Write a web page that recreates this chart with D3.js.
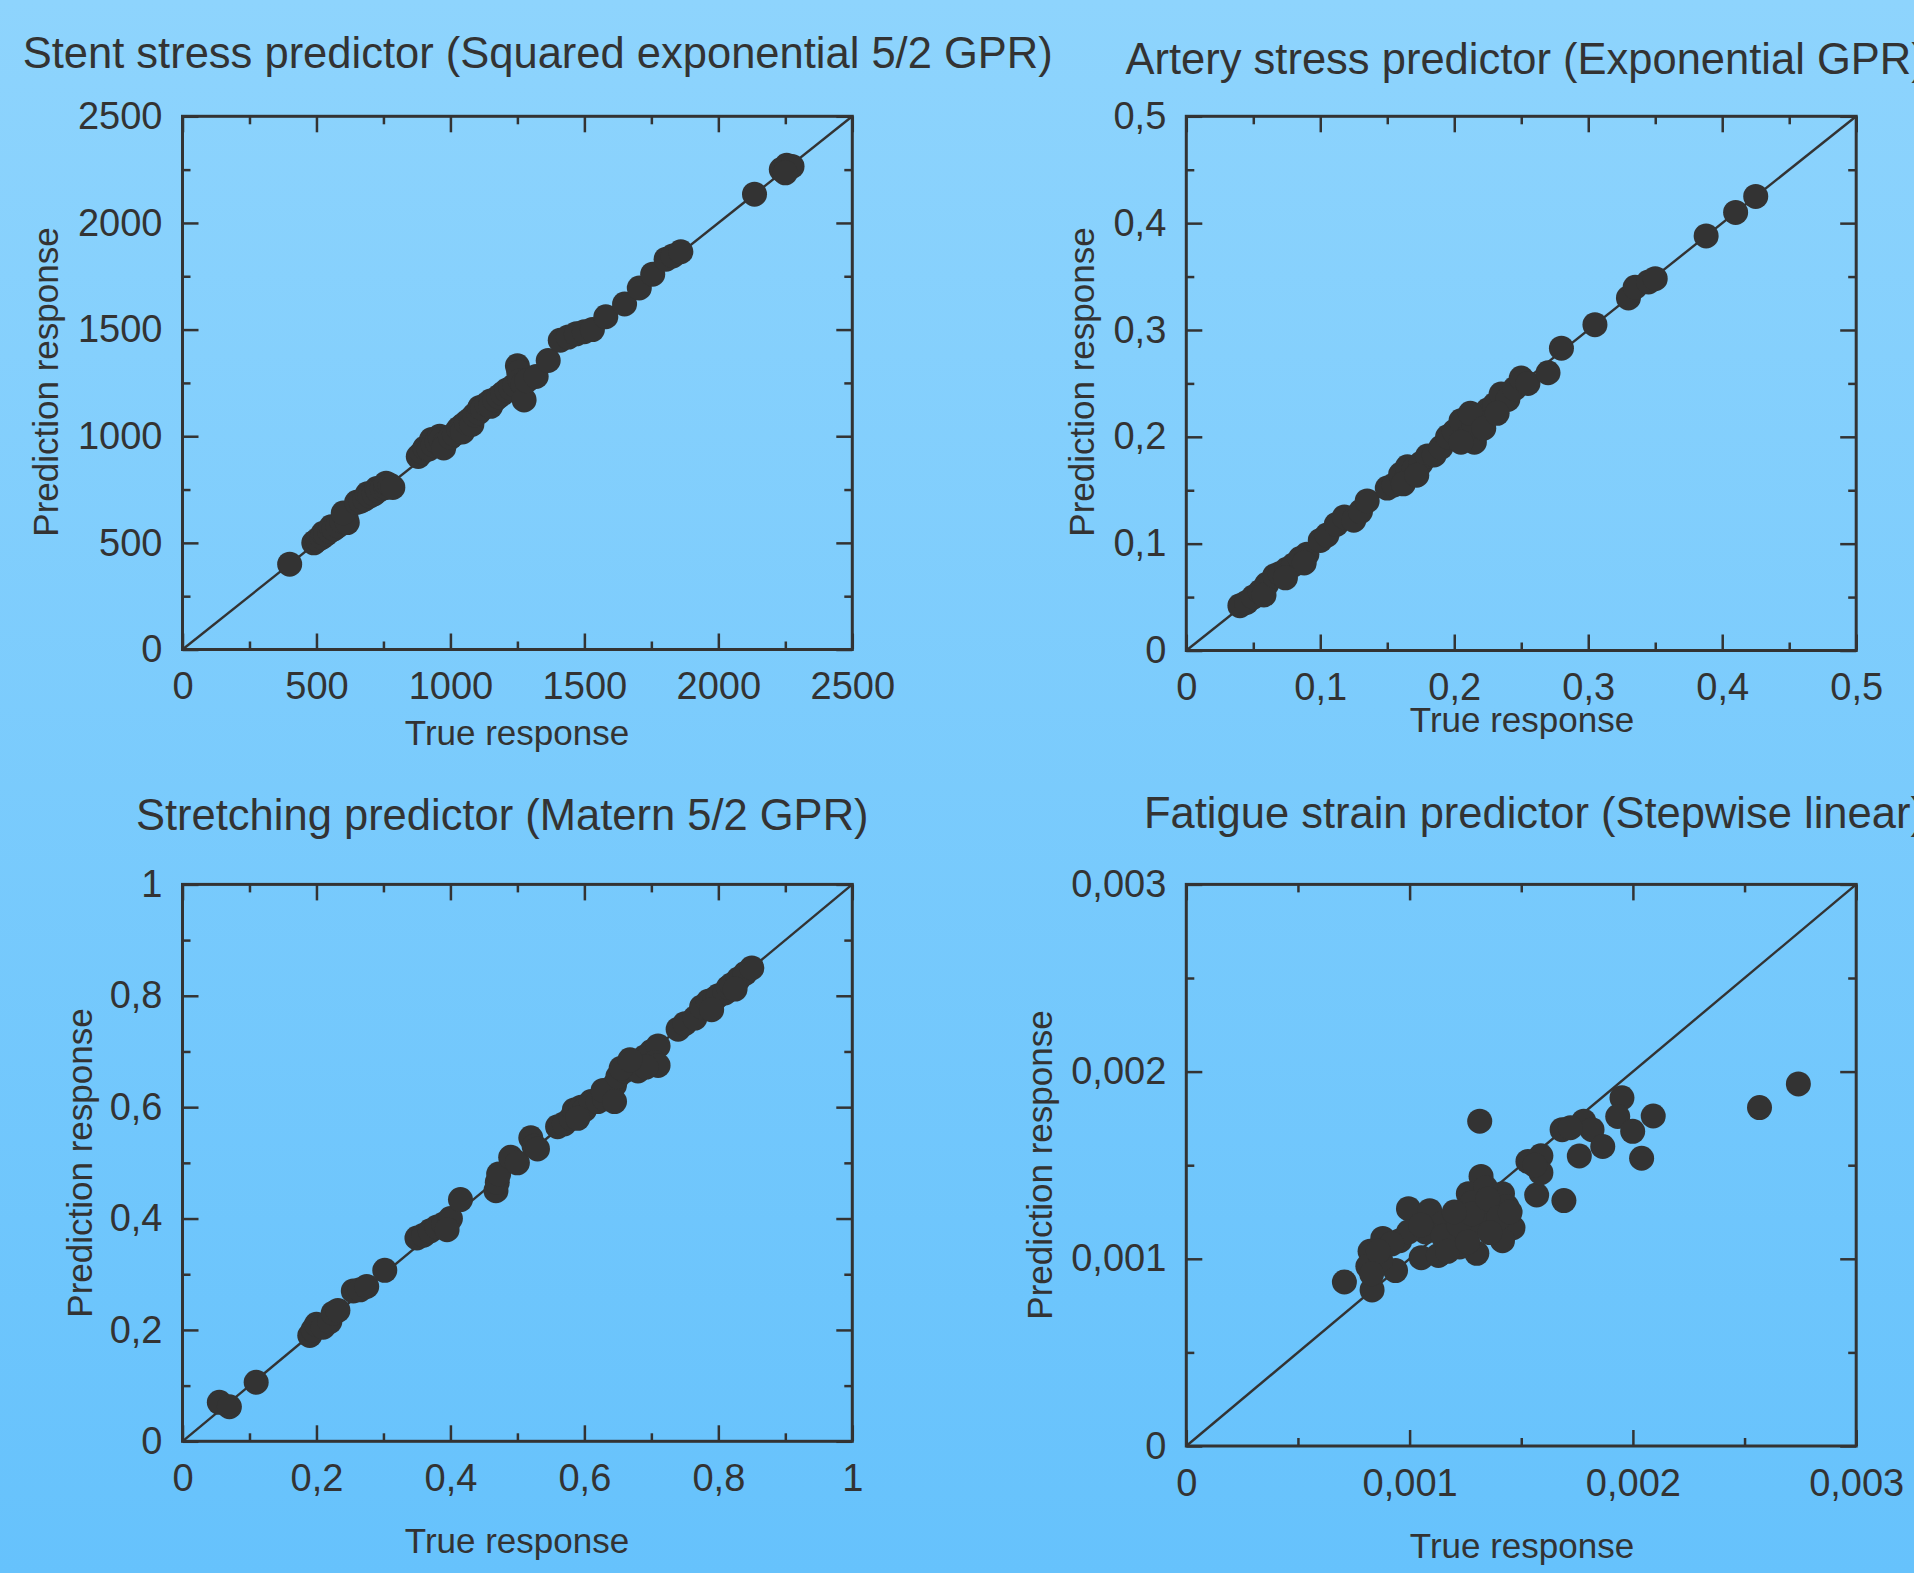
<!DOCTYPE html>
<html>
<head>
<meta charset="utf-8">
<script src="https://cdn.jsdelivr.net/npm/d3@7"></script>
<style>
  html, body { margin: 0; padding: 0; }
  body { width: 1914px; height: 1573px; overflow: hidden; }
  svg text { font-family: "Liberation Sans", Arial, sans-serif; fill: #333; }
</style>
</head>
<body>
<svg id="chart" width="1914" height="1573"></svg>
<script>
// ---- data (true response, predicted response) ----
const stentTitle = "Stent stress predictor (Squared exponential 5/2 GPR)";
const stentMajor = [0, 500, 1000, 1500, 2000, 2500];
const stentMinor = [250, 750, 1250, 1750, 2250];
const stentPoints = [
  [400, 400],
  [490, 500], [505, 515], [520, 525], [525, 545], [535, 540], [550, 555], [555, 575], [565, 565], [580, 580],
  [595, 600], [610, 625], [615, 595], [600, 640],
  [650, 690], [665, 695], [680, 705], [690, 730], [700, 720], [715, 730], [725, 755], [730, 745], [745, 755],
  [760, 760], [760, 780], [775, 770], [785, 760],
  [880, 905], [895, 925], [905, 945], [920, 940], [930, 985], [935, 960], [950, 975], [960, 1000], [965, 985],
  [980, 970], [975, 945],
  [1000, 995], [1015, 1010], [1030, 1035], [1045, 1050], [1045, 1020], [1060, 1065], [1075, 1080], [1080, 1055],
  [1090, 1100], [1105, 1110], [1110, 1135], [1120, 1130], [1135, 1150], [1150, 1165], [1150, 1140], [1165, 1170],
  [1180, 1185], [1195, 1200],
  [1210, 1215], [1225, 1225], [1240, 1240], [1250, 1330], [1255, 1300], [1260, 1260], [1270, 1245], [1275, 1170],
  [1285, 1260], [1320, 1280],
  [1365, 1355],
  [1410, 1450], [1440, 1465], [1470, 1480], [1500, 1490], [1530, 1500],
  [1580, 1560], [1650, 1620], [1705, 1695], [1755, 1760],
  [1805, 1830], [1830, 1845], [1860, 1865],
  [2135, 2135],
  [2235, 2250], [2255, 2270], [2275, 2265], [2250, 2235]
];

const arteryTitle = "Artery stress predictor (Exponential GPR)";
const arteryMajor = [0, 0.1, 0.2, 0.3, 0.4, 0.5];
const arteryMinor = [0.05, 0.15, 0.25, 0.35, 0.45];
const arteryPoints = [
  [0.040, 0.042], [0.045, 0.045], [0.050, 0.050], [0.055, 0.055], [0.060, 0.062], [0.058, 0.052],
  [0.066, 0.070], [0.070, 0.072], [0.075, 0.076], [0.080, 0.080], [0.085, 0.086], [0.090, 0.090], [0.088, 0.082],
  [0.074, 0.068],
  [0.100, 0.103], [0.105, 0.108], [0.112, 0.118], [0.118, 0.125], [0.125, 0.122], [0.130, 0.130], [0.135, 0.140],
  [0.150, 0.152], [0.155, 0.155], [0.160, 0.165], [0.165, 0.172], [0.170, 0.170], [0.175, 0.175], [0.180, 0.182],
  [0.185, 0.183], [0.162, 0.156], [0.172, 0.164],
  [0.190, 0.190], [0.195, 0.200], [0.200, 0.205], [0.205, 0.215], [0.210, 0.200], [0.215, 0.195], [0.215, 0.210],
  [0.220, 0.220], [0.225, 0.225], [0.205, 0.195], [0.212, 0.222], [0.222, 0.208],
  [0.230, 0.230], [0.235, 0.240], [0.240, 0.235], [0.245, 0.245], [0.250, 0.255], [0.255, 0.250], [0.270, 0.260],
  [0.232, 0.222],
  [0.280, 0.283], [0.305, 0.305],
  [0.330, 0.330], [0.335, 0.340], [0.345, 0.345], [0.350, 0.348],
  [0.388, 0.388], [0.410, 0.410], [0.425, 0.425]
];

const stretchTitle = "Stretching predictor (Matern 5/2 GPR)";
const stretchMajor = [0, 0.2, 0.4, 0.6, 0.8, 1];
const stretchMinor = [0.1, 0.3, 0.5, 0.7, 0.9];
const stretchPoints = [
  [0.055, 0.070], [0.070, 0.062],
  [0.110, 0.106],
  [0.190, 0.190], [0.195, 0.200], [0.200, 0.210], [0.210, 0.205], [0.220, 0.215], [0.225, 0.230], [0.232, 0.235],
  [0.255, 0.270], [0.265, 0.272], [0.275, 0.278],
  [0.302, 0.307],
  [0.350, 0.365], [0.360, 0.370], [0.370, 0.378], [0.380, 0.385], [0.390, 0.390], [0.400, 0.400], [0.395, 0.380],
  [0.415, 0.434],
  [0.468, 0.450], [0.470, 0.465], [0.472, 0.480],
  [0.490, 0.510], [0.500, 0.500],
  [0.520, 0.545], [0.525, 0.530], [0.530, 0.525],
  [0.560, 0.565], [0.570, 0.570], [0.580, 0.580], [0.585, 0.595], [0.595, 0.600], [0.600, 0.595], [0.610, 0.610],
  [0.590, 0.580],
  [0.620, 0.610], [0.630, 0.615], [0.640, 0.625], [0.645, 0.640], [0.628, 0.630], [0.645, 0.610],
  [0.650, 0.655], [0.660, 0.665], [0.670, 0.670], [0.680, 0.680], [0.690, 0.690], [0.700, 0.700], [0.710, 0.710],
  [0.705, 0.680], [0.710, 0.675], [0.680, 0.665], [0.692, 0.672], [0.655, 0.670], [0.668, 0.685],
  [0.740, 0.740], [0.750, 0.750], [0.765, 0.760],
  [0.775, 0.780], [0.785, 0.790], [0.795, 0.795], [0.800, 0.800], [0.810, 0.805], [0.815, 0.815], [0.790, 0.775],
  [0.820, 0.820], [0.830, 0.830], [0.840, 0.840], [0.850, 0.850], [0.825, 0.812]
];

const fatigueTitle = "Fatigue strain predictor (Stepwise linear)";
const fatigueMajor = [0, 0.001, 0.002, 0.003];
const fatigueMinor = [0.0005, 0.0015, 0.0025];
const fatiguePoints = [
  [0.000708, 0.000876], [0.001314, 0.001735], [0.002567, 0.001808], [0.002741, 0.001934],
  [0.002091, 0.001763], [0.002039, 0.001537], [0.001760, 0.001549], [0.001569, 0.001341], [0.001691, 0.001311],
  [0.001951, 0.001860], [0.001932, 0.001760], [0.001999, 0.001681],
  [0.001683, 0.001690], [0.001780, 0.001735], [0.001817, 0.001690], [0.001865, 0.001600], [0.001720, 0.001700],
  [0.001530, 0.001520], [0.001588, 0.001550], [0.001588, 0.001460], [0.001560, 0.001500],
  [0.001320, 0.001440], [0.001263, 0.001348], [0.001416, 0.001348], [0.001243, 0.001257], [0.001339, 0.001280],
  [0.001435, 0.001280], [0.000995, 0.001268], [0.001090, 0.001257], [0.001148, 0.001189], [0.001071, 0.001143],
  [0.001186, 0.001097], [0.001301, 0.001189], [0.001377, 0.001189], [0.001463, 0.001166], [0.001416, 0.001097],
  [0.001301, 0.001029], [0.001052, 0.001006], [0.001129, 0.001018], [0.001224, 0.001063], [0.000880, 0.001109],
  [0.000956, 0.001097], [0.000823, 0.001040], [0.000813, 0.000960], [0.000832, 0.000834], [0.000937, 0.000937],
  [0.000870, 0.000994], [0.000995, 0.001143], [0.001340, 0.001380], [0.001280, 0.001300],
  [0.000920, 0.001080], [0.001050, 0.001180], [0.001150, 0.001120], [0.001220, 0.001180], [0.001280, 0.001240],
  [0.001350, 0.001320], [0.001400, 0.001220], [0.001450, 0.001250], [0.001170, 0.001040], [0.001260, 0.001090],
  [0.000860, 0.001040], [0.000830, 0.000920], [0.001360, 0.001140], [0.001200, 0.001250]
];

const xLabel = "True response";
const yLabel = "Prediction response";

// ---- layout of the four panels (pixel positions) ----
const panels = [
  { title: stentTitle, points: stentPoints, major: stentMajor, minor: stentMinor,
    box: { left: 182.5, right: 852.3, top: 116.3, bottom: 649.5 },
    titleAt: [22.7, 68.3], yLabAt: [46, 382], xLabAt: [517, 745] },
  { title: arteryTitle, points: arteryPoints, major: arteryMajor, minor: arteryMinor,
    box: { left: 1186.3, right: 1856.2, top: 116.3, bottom: 650.5 },
    titleAt: [1125.5, 74], yLabAt: [1082, 382], xLabAt: [1522, 732] },
  { title: stretchTitle, points: stretchPoints, major: stretchMajor, minor: stretchMinor,
    box: { left: 182.5, right: 852.3, top: 884.4, bottom: 1441.3 },
    titleAt: [136, 830], yLabAt: [80, 1163], xLabAt: [517, 1553] },
  { title: fatigueTitle, points: fatiguePoints, major: fatigueMajor, minor: fatigueMinor,
    box: { left: 1186.3, right: 1856.2, top: 884.4, bottom: 1446 },
    titleAt: [1144, 827.5], yLabAt: [1040, 1165], xLabAt: [1522, 1558] }
];

const ink = "#333333";
const svg = d3.select("#chart");

// background gradient
const grad = svg.append("defs").append("linearGradient")
  .attr("id", "bg").attr("x1", 0).attr("y1", 0).attr("x2", 0).attr("y2", 1);
grad.append("stop").attr("offset", "0%").attr("stop-color", "#8ed4fd");
grad.append("stop").attr("offset", "100%").attr("stop-color", "#66c2fc");
svg.append("rect").attr("width", 1914).attr("height", 1573).attr("fill", "url(#bg)");

const fmt = d => String(d).replace(".", ",");

panels.forEach(p => {
  const b = p.box;
  const maxV = p.major[p.major.length - 1];
  const x = d3.scaleLinear().domain([0, maxV]).range([b.left, b.right]);
  const y = d3.scaleLinear().domain([0, maxV]).range([b.bottom, b.top]);
  const g = svg.append("g");

  // ticks (inside, on all four sides)
  const addAxis = (axis, tr, labels, size) => {
    const a = g.append("g").attr("transform", tr).style("color", ink)
      .call(axis.tickSizeInner(-size).tickSizeOuter(0));
    a.select(".domain").remove();
    a.selectAll(".tick line").attr("stroke-width", 2.5);
    if (!labels) a.selectAll(".tick text").remove();
    return a;
  };
  const bx = addAxis(d3.axisBottom(x).tickValues(p.major).tickFormat(fmt).tickPadding(23),
    `translate(0,${b.bottom})`, true, 16);
  bx.selectAll(".tick text").style("font-size", "38px").attr("fill", ink);
  addAxis(d3.axisBottom(x).tickValues(p.minor).tickFormat(""), `translate(0,${b.bottom})`, false, 8);
  addAxis(d3.axisTop(x).tickValues(p.major).tickFormat(""), `translate(0,${b.top})`, false, 16);
  addAxis(d3.axisTop(x).tickValues(p.minor).tickFormat(""), `translate(0,${b.top})`, false, 8);

  const ly = addAxis(d3.axisLeft(y).tickValues(p.major).tickFormat(fmt).tickPadding(20),
    `translate(${b.left},0)`, true, 16);
  ly.selectAll(".tick text").style("font-size", "38px").attr("fill", ink);
  addAxis(d3.axisLeft(y).tickValues(p.minor).tickFormat(""), `translate(${b.left},0)`, false, 8);
  addAxis(d3.axisRight(y).tickValues(p.major).tickFormat(""), `translate(${b.right},0)`, false, 16);
  addAxis(d3.axisRight(y).tickValues(p.minor).tickFormat(""), `translate(${b.right},0)`, false, 8);

  // identity line
  g.append("line")
    .attr("x1", x(0)).attr("y1", y(0)).attr("x2", x(maxV)).attr("y2", y(maxV))
    .attr("stroke", ink).attr("stroke-width", 2.4);

  // points
  g.append("g").selectAll("circle").data(p.points).enter().append("circle")
    .attr("cx", d => x(d[0])).attr("cy", d => y(d[1]))
    .attr("r", 12.5).attr("fill", ink);

  // frame
  g.append("rect")
    .attr("x", b.left).attr("y", b.top)
    .attr("width", b.right - b.left).attr("height", b.bottom - b.top)
    .attr("fill", "none").attr("stroke", ink).attr("stroke-width", 3);

  // texts
  g.append("text").attr("x", p.titleAt[0]).attr("y", p.titleAt[1])
    .style("font-size", "43.5px").text(p.title);
  g.append("text").attr("x", p.xLabAt[0]).attr("y", p.xLabAt[1])
    .attr("text-anchor", "middle").style("font-size", "35px").text(xLabel);
  g.append("text")
    .attr("transform", `translate(${p.yLabAt[0]},${p.yLabAt[1]}) rotate(-90)`)
    .attr("text-anchor", "middle").attr("dy", "0.35em")
    .style("font-size", "35px").text(yLabel);
});
</script>
</body>
</html>
